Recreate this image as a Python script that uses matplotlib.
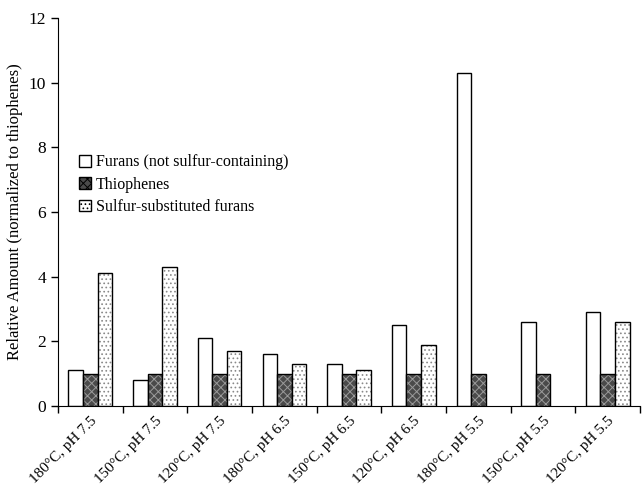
import matplotlib
matplotlib.use("Agg")
import matplotlib.pyplot as plt
import matplotlib.transforms as mtransforms
from matplotlib.patches import Patch
import numpy as np

plt.rcParams['font.family'] = ['Liberation Serif', 'DejaVu Serif']
plt.rcParams['hatch.linewidth'] = 0.7

categories = ["180°C, pH 7.5", "150°C, pH 7.5", "120°C, pH 7.5",
              "180°C, pH 6.5", "150°C, pH 6.5", "120°C, pH 6.5",
              "180°C, pH 5.5", "150°C, pH 5.5", "120°C, pH 5.5"]
furans = [1.1, 0.8, 2.1, 1.6, 1.3, 2.5, 10.3, 2.6, 2.9]
thiophenes = [1.0, 1.0, 1.0, 1.0, 1.0, 1.0, 1.0, 1.0, 1.0]
sulfur_furans = [4.1, 4.3, 1.7, 1.3, 1.1, 1.9, 0.0, 0.0, 2.6]
series_names = ["Furans (not sulfur-containing)", "Thiophenes", "Sulfur-substituted furans"]

fig = plt.figure(figsize=(6.42, 4.92), dpi=100)
ax = fig.add_axes([0.0903, 0.1748, 0.9067, 0.7886])

x = np.arange(len(categories))
w = 0.225
ax.bar(x - w, furans, w, color='white', edgecolor='black', linewidth=1.0)
# thiophenes: dark speckled
ax.bar(x, thiophenes, w, color='#4a4a4a', edgecolor='#9a9a9a', linewidth=0, hatch='xxxx')
ax.bar(x, thiophenes, w, fill=False, edgecolor='black', linewidth=1.0)
# sulfur-substituted: light stipple
s = [v if v > 0 else np.nan for v in sulfur_furans]
ax.bar(x + w, s, w, color='white', edgecolor='#8a8a8a', linewidth=0, hatch='....')
ax.bar(x + w, s, w, fill=False, edgecolor='black', linewidth=1.0)

handles = [Patch(facecolor='white', edgecolor='black', linewidth=1.0),
           Patch(facecolor='#4a4a4a', edgecolor='black', linewidth=1.0, hatch='xxxx'),
           Patch(facecolor='white', edgecolor='black', linewidth=1.0, hatch='....')]

ax.set_xlim(-0.5, len(categories) - 0.5)
ax.set_ylim(0, 12)
ax.set_yticks(np.arange(0, 13, 2))
ax.set_xticks(np.arange(-0.5, len(categories) - 0.4, 1.0), minor=False)
ax.set_xticklabels([])
ax.set_xticks(x, minor=True)
labels = ax.set_xticklabels(categories, minor=True, rotation=45, ha='right',
                            rotation_mode='anchor', fontsize=11)
offset = mtransforms.ScaledTranslation(-8 / 100, 0, fig.dpi_scale_trans)
for lab in labels:
    lab.set_transform(lab.get_transform() + offset)
ax.tick_params(axis='x', which='minor', length=0, pad=6)
ax.tick_params(axis='x', which='major', length=5, direction='out', width=1)
ax.tick_params(axis='y', length=5, direction='out', width=1, labelsize=12.5)
ax.spines['top'].set_visible(False)
ax.spines['right'].set_visible(False)
ax.set_ylabel("Relative Amount (normalized to thiophenes)", fontsize=12)

ax.legend(handles, series_names, loc='upper left', bbox_to_anchor=(0.025, 0.665), frameon=False,
          fontsize=11.5, handlelength=0.75, handleheight=0.75, handletextpad=0.3,
          labelspacing=0.4, borderaxespad=0)

fig.savefig("out.png", dpi=100)
